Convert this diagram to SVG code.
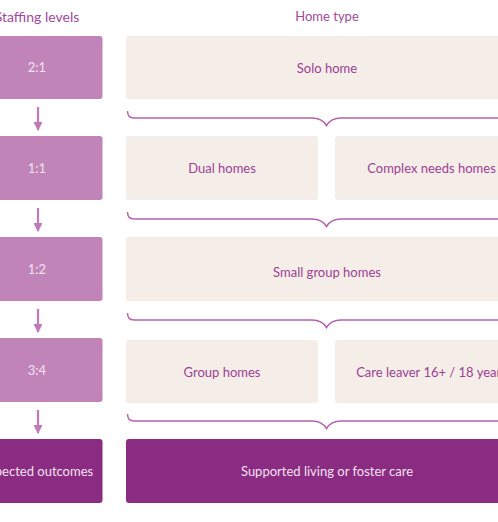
<svg xmlns="http://www.w3.org/2000/svg" width="498" height="522" viewBox="0 0 498 522">
<style>
.lvl{fill:#c084b8}
.home{fill:#f5ede8}
.out{fill:#8b2c83}
.tl{font-family:Lato,"Open Sans",sans-serif;font-size:13px;fill:#f3e1f0;text-anchor:middle}
.th{font-family:Lato,"Open Sans",sans-serif;font-size:13px;fill:#9c3f95;text-anchor:middle}
.hdr{font-family:Lato,"Open Sans",sans-serif;font-size:14px;fill:#a04a9a;text-anchor:middle}
.hdr2{font-family:Lato,"Open Sans",sans-serif;font-size:13px;fill:#a04a9a;text-anchor:middle}
.brace{fill:none;stroke:#b563ad;stroke-width:1.5}
.arr{stroke:#c07ab8;stroke-width:2.2}
</style>
<defs>
<marker id="ah" viewBox="0 0 10 10" refX="9" refY="5" markerWidth="4" markerHeight="4" markerUnits="strokeWidth" orient="auto">
<path d="M0,0 L10,5 L0,10 z" fill="#c07ab8"/>
</marker>
</defs>
<g id="headers">
<text class="hdr" x="37" y="22">Staffing levels</text>
<text class="hdr2" x="327" y="21">Home type</text>
</g>
<g id="lvl-2-1"><rect class="lvl" x="-28" y="36" width="130.5" height="63" rx="3"/><text class="tl" x="37" y="72">2:1</text></g>
<g id="lvl-1-1"><rect class="lvl" x="-28" y="136" width="130.5" height="64" rx="3"/><text class="tl" x="37" y="173">1:1</text></g>
<g id="lvl-1-2"><rect class="lvl" x="-28" y="237" width="130.5" height="64" rx="3"/><text class="tl" x="37" y="274">1:2</text></g>
<g id="lvl-3-4"><rect class="lvl" x="-28" y="338" width="130.5" height="64" rx="3"/><text class="tl" x="37" y="375">3:4</text></g>
<g id="expected"><rect class="out" x="-28" y="439" width="130.5" height="64" rx="3"/><text class="tl" x="37" y="476">Expected outcomes</text></g>
<g id="solo"><rect class="home" x="126" y="36" width="402" height="63" rx="3"/><text class="th" x="327" y="73">Solo home</text></g>
<g id="dual"><rect class="home" x="126" y="136" width="192" height="64" rx="3"/><text class="th" x="222" y="173">Dual homes</text></g>
<g id="complex"><rect class="home" x="335" y="136" width="193" height="64" rx="3"/><text class="th" x="431.5" y="173">Complex needs homes</text></g>
<g id="small"><rect class="home" x="126" y="237" width="402" height="64" rx="3"/><text class="th" x="327" y="277">Small group homes</text></g>
<g id="group"><rect class="home" x="126" y="340" width="192" height="63" rx="3"/><text class="th" x="222" y="377">Group homes</text></g>
<g id="leaver"><rect class="home" x="335" y="340" width="193" height="63" rx="3"/><text class="th" x="431.5" y="377">Care leaver 16+ / 18 years</text></g>
<g id="supported"><rect class="out" x="126" y="439" width="402" height="64" rx="3"/><text class="tl" x="327" y="476">Supported living or foster care</text></g>
<g id="connectors">
<line class="arr" x1="38" y1="107" x2="38" y2="130" marker-end="url(#ah)"/>
<line class="arr" x1="38" y1="208" x2="38" y2="231" marker-end="url(#ah)"/>
<line class="arr" x1="38" y1="309" x2="38" y2="332" marker-end="url(#ah)"/>
<line class="arr" x1="38" y1="410" x2="38" y2="433" marker-end="url(#ah)"/>
<path class="brace" d="M127.5,111 Q127.5,118 134,118 L312,118 Q322,118 326.5,125.5 Q331,118 341,118 L520,118 Q526.5,118 526.5,111"/>
<path class="brace" d="M127.5,212 Q127.5,219 134,219 L312,219 Q322,219 326.5,226.5 Q331,219 341,219 L520,219 Q526.5,219 526.5,212"/>
<path class="brace" d="M127.5,313 Q127.5,320 134,320 L312,320 Q322,320 326.5,327.5 Q331,320 341,320 L520,320 Q526.5,320 526.5,313"/>
<path class="brace" d="M127.5,414 Q127.5,421 134,421 L312,421 Q322,421 326.5,428.5 Q331,421 341,421 L520,421 Q526.5,421 526.5,414"/>
</g>
</svg>
